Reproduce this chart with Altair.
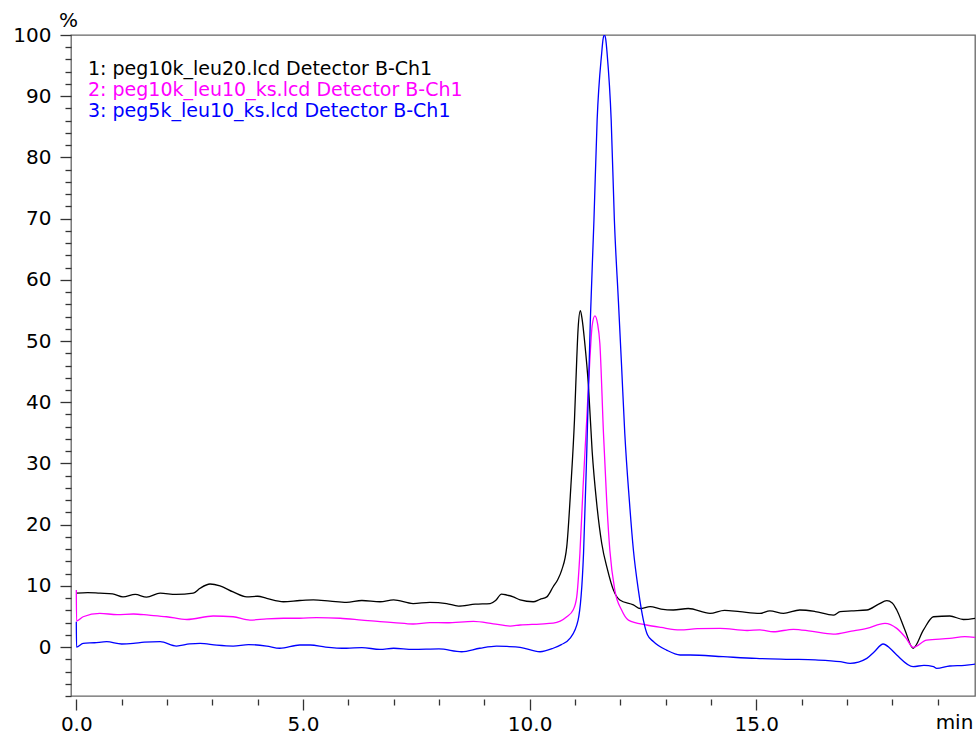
import altair as alt
import pandas as pd

# ---- data ----
labels = ["1: peg10k_leu20.lcd Detector B-Ch1",
          "2: peg10k_leu10_ks.lcd Detector B-Ch1",
          "3: peg5k_leu10_ks.lcd Detector B-Ch1"]
colors = ["#000000", "#ff00ff", "#0000ff"]

x1 = [0.0, 0.25, 0.52, 0.8, 1.03, 1.3, 1.55, 1.85, 2.2, 2.58, 2.73, 2.95, 3.17, 3.46, 3.76, 4.0, 4.2,
      4.57, 4.93, 5.23, 5.6, 5.96, 6.3, 6.7, 7.0, 7.43, 7.8, 8.17, 8.43, 8.8, 9.13, 9.25, 9.38, 9.5,
      9.64, 9.79, 10.08, 10.23, 10.38, 10.52, 10.62, 10.71, 10.82, 10.91, 10.99, 11.04, 11.07, 11.12,
      11.16, 11.21, 11.3, 11.38, 11.48, 11.59, 11.72, 11.85, 11.99, 12.29, 12.44, 12.66, 12.9, 13.17,
      13.5, 13.98, 14.3, 14.64, 15.08, 15.3, 15.6, 15.96, 16.3, 16.7, 16.85, 17.1, 17.44, 17.7, 17.88,
      18.0, 18.1, 18.28, 18.46, 18.69, 18.91, 19.27, 19.57, 19.83]
y1 = [8.8, 8.9, 8.8, 8.7, 8.2, 8.6, 8.15, 8.8, 8.6, 8.8, 9.6, 10.3, 10.0, 9.0, 8.2, 8.3, 7.95,
      7.4, 7.6, 7.7, 7.5, 7.3, 7.6, 7.4, 7.7, 7.1, 7.3, 7.1, 6.7, 7.0, 7.1, 7.6, 8.66, 8.5,
      8.2, 7.7, 7.4, 7.8, 8.2, 9.85, 11.0, 12.6, 16.4, 26.2, 37.1, 47.0, 52.0, 54.95,
      53.5, 50.2, 42.5, 32.0, 23.5, 17.0, 12.6, 9.3, 7.7, 6.9, 6.3, 6.6, 6.2, 6.05,
      6.3, 5.5, 6.0, 5.77, 5.5, 5.9, 5.5, 6.05, 5.8, 5.2, 5.77, 5.9, 6.05, 7.0, 7.57,
      7.2, 6.05, 2.8, -0.2, 2.8, 4.95, 5.07, 4.5, 4.7]

x2 = [0.0, 0.005, 0.15, 0.52, 0.9, 1.26, 1.6, 1.99, 2.44, 3.02, 3.46, 3.83, 4.2, 4.57, 4.93, 5.3,
      5.82, 6.3, 6.7, 7.0, 7.43, 7.8, 8.17, 8.76, 9.2, 9.57, 9.79, 10.23, 10.52, 10.82, 10.96, 11.04,
      11.11, 11.18, 11.26, 11.33, 11.38, 11.44, 11.5, 11.55, 11.63, 11.7, 11.77, 11.88, 12.03, 12.18,
      12.58, 12.9, 13.32, 13.7, 14.2, 14.8, 15.08, 15.38, 15.82, 16.2, 16.7, 17.1, 17.44, 17.84, 18.1,
      18.3, 18.46, 18.76, 19.27, 19.6, 19.83]
y2 = [9.3, 4.25, 4.95, 5.5, 5.3, 5.4, 5.2, 4.95, 4.5, 5.07, 4.95, 4.4, 4.6, 4.7, 4.7, 4.8,
      4.7, 4.4, 4.15, 4.0, 3.76, 4.0, 3.97, 4.2, 3.8, 3.43, 3.6, 3.76, 3.9, 4.95, 6.05, 8.2,
      15.3, 26.2, 37.1, 47.0, 52.5, 54.1, 52.8, 49.6, 34.9, 24.0, 15.85, 9.3, 6.05, 4.4,
      3.6, 3.2, 2.8, 3.0, 3.05, 2.7, 2.8, 2.5, 2.9, 2.6, 2.1, 2.6, 3.05, 3.87, 3.05,
      1.5, -0.05, 1.14, 1.4, 1.7, 1.58]

x3 = [0.0, 0.005, 0.15, 0.4, 0.67, 1.0, 1.26, 1.5, 1.85, 2.21, 2.5, 2.73, 3.1, 3.46, 3.8, 4.2,
      4.49, 4.93, 5.16, 5.5, 5.96, 6.3, 6.7, 7.0, 7.43, 8.0, 8.5, 8.9, 9.27, 9.5, 9.79, 10.23,
      10.52, 10.7, 10.89, 11.07, 11.19, 11.26, 11.34, 11.42, 11.49, 11.59, 11.62, 11.65, 11.68,
      11.71, 11.8, 11.87, 11.96, 12.03, 12.1, 12.2, 12.29, 12.4, 12.51, 12.6, 12.73, 13.02, 13.32,
      13.54, 14.27, 15.0, 15.74, 16.3, 16.85, 17.07, 17.44, 17.6, 17.8, 17.95, 18.1, 18.46, 18.7,
      18.91, 18.98, 19.27, 19.6, 19.83]
y3 = [4.15, 0.0, 0.6, 0.7, 0.87, 0.5, 0.6, 0.8, 0.87, 0.16, 0.5, 0.6, 0.3, 0.16, 0.4, 0.16,
      -0.2, 0.33, 0.33, 0.0, -0.2, -0.1, -0.38, -0.2, -0.38, -0.3, -0.77, -0.2, 0.16, 0.1, -0.05, -0.77,
      -0.2, 0.4, 1.4, 4.4, 15.3, 31.6, 53.4, 69.8, 86.1, 97.0, 99.3, 100.0, 99.3,
      97.0, 86.1, 69.8, 56.4, 45.8, 34.9, 24.0, 15.85, 9.3, 4.4, 2.0, 0.9, -0.5, -1.3,
      -1.3, -1.58, -1.85, -2.0, -2.1, -2.4, -2.67, -1.85, -0.8, 0.5, -0.2, -1.3, -3.2, -3.0,
      -3.2, -3.5, -3.1, -3.0, -2.8]

frames = []
for lab, xs, ys in zip(labels, [x1, x2, x3], [y1, y2, y3]):
    frames.append(pd.DataFrame({"series": lab, "x": xs, "y": ys, "idx": range(len(xs))}))
df = pd.concat(frames, ignore_index=True)

FONT = "DejaVu Sans"

lines = alt.Chart(df).mark_line(strokeWidth=1.3, interpolate="monotone", clip=True).encode(
    x=alt.X("x:Q",
            scale=alt.Scale(domain=[-0.117, 19.826], nice=False, zero=False),
            axis=alt.Axis(values=list(range(0, 20)),
                          labelExpr="datum.value % 5 === 0 ? format(datum.value, '.1f') : ''",
                          tickSize={"condition": {"test": "datum.value % 5 === 0", "value": 11}, "value": 6},
                          domain=False, grid=False, offset=3, labelOverlap=False, labelFlush=False,
                          labelPadding=4, labelFontSize=20, labelFont=FONT, labelColor="#000",
                          tickColor="#333", tickWidth=1.3,
                          title="min", titleFont=FONT, titleFontSize=20, titleFontWeight="normal",
                          titleAngle=0, titleX=883, titleY=23, titleAlign="center",
                          titleBaseline="middle")),
    y=alt.Y("y:Q",
            scale=alt.Scale(domain=[-8, 100], nice=False, zero=False),
            axis=alt.Axis(values=list(range(-8, 101, 2)),
                          labelExpr="datum.value % 10 === 0 ? format(datum.value, 'd') : ''",
                          tickSize={"condition": {"test": "datum.value % 10 === 0", "value": 11}, "value": 6},
                          domain=False, grid=False, labelOverlap=False, labelFlush=False,
                          labelPadding=9, labelFontSize=20, labelFont=FONT, labelColor="#000",
                          tickColor="#333", tickWidth=1.3,
                          title="%", titleFont=FONT, titleFontSize=20, titleFontWeight="normal",
                          titleAngle=0, titleX=-3, titleY=-15, titleAlign="center",
                          titleBaseline="middle")),
    color=alt.Color("series:N", scale=alt.Scale(domain=labels, range=colors), legend=None),
    order="idx:Q",
)

texts = []
for i, (lab, c) in enumerate(zip(labels, colors)):
    texts.append(
        alt.Chart(pd.DataFrame({"t": [lab]})).mark_text(
            align="left", baseline="alphabetic", fontSize=19, font=FONT, color=c
        ).encode(x=alt.value(17), y=alt.value(40 + 21 * i), text="t:N")
    )

chart = alt.layer(lines, *texts).properties(
    width=904, height=661,
    autosize=alt.AutoSizeParams(type="none"),
    padding={"left": 71, "top": 35, "right": 3, "bottom": 38},
    background="white",
).configure_view(stroke="#666", strokeWidth=1.3)

chart.save("out.html", embed_options={"renderer": "svg", "actions": False})
